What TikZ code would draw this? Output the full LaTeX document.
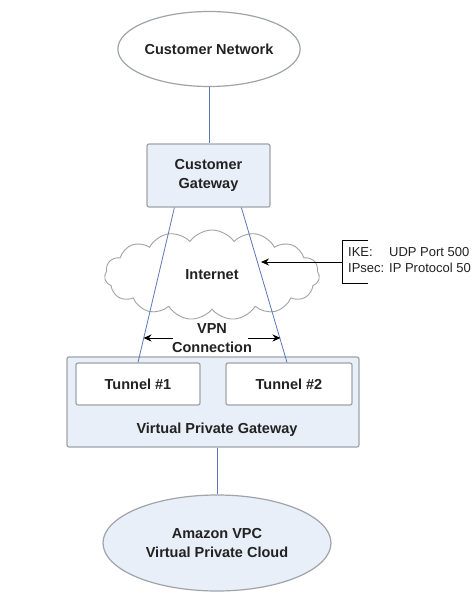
\documentclass[tikz,border=0pt]{standalone}
\usepackage{fontspec}
\setmainfont{Liberation Sans}
\usetikzlibrary{shapes.geometric,shapes.symbols,arrows.meta,calc}
\definecolor{boxfill}{HTML}{E8EFF9}
\definecolor{boxline}{HTML}{A0A4A8}
\definecolor{connline}{HTML}{5A78B8}
\definecolor{txt}{HTML}{222222}
\begin{document}
\begin{tikzpicture}[x=1pt,y=-1pt,
  lbl/.style={font=\fontsize{14.5}{19}\selectfont\bfseries, text=txt, align=center},
  ell/.style={ellipse, draw=boxline, line width=1.2pt, inner sep=0pt},
  bx/.style={rectangle, draw=boxline, line width=1.2pt, rounded corners=2pt, inner sep=0pt},
  conn/.style={draw=connline, line width=0.8pt},
  arr/.style={draw=black, line width=0.9pt, -{Stealth[length=8pt,width=7pt]}},
  brk/.style={draw=black, line width=0.9pt}]
\useasboundingbox (0,0) rectangle (474,611);
\fill[white] (0,0) rectangle (474,611);
% nodes
\node[ell, fill=white, minimum width=182pt, minimum height=75pt, lbl] (cn) at (209,49) {Customer Network};
\node[bx, fill=boxfill, minimum width=123pt, minimum height=63pt, lbl] (cg) at (208.5,175.5) {Customer\\Gateway};
\node[cloud, cloud puffs=15, cloud puff arc=110, aspect=2.4, draw=boxline, line width=0.9pt, fill=white, minimum width=215pt, minimum height=90pt, lbl] (inet) at (212,275) {Internet};
\node[bx, fill=boxfill, minimum width=292pt, minimum height=90pt] (vpg) at (213,402) {};
\node[lbl] (vpgl) at (217,430) {Virtual Private Gateway};
\node[bx, fill=white, minimum width=124pt, minimum height=42pt, lbl] (t1) at (138,384) {Tunnel \#1};
\node[bx, fill=white, minimum width=126pt, minimum height=42pt, lbl] (t2) at (289,384) {Tunnel \#2};
\node[ell, fill=boxfill, minimum width=228pt, minimum height=96pt, lbl] (vpc) at (217,543) {Amazon VPC\\Virtual Private Cloud};
\node[lbl] (vpn) at (212,338) {VPN\\Connection};
\node[anchor=west, inner sep=0pt, font=\fontsize{13}{16}\selectfont, text=txt] (ike) at (348,261.5)
  {\begin{tabular}{@{}l@{ }l@{}}IKE: & UDP Port 500\\IPsec: & IP Protocol 50\end{tabular}};
% connectors
\draw[conn] (cn.south) -- (cn.south |- cg.north);
\draw[conn] (vpc.north |- vpg.south) -- (vpc.north);
\coordinate (a1) at ($(cg.south west)+(28,0)$);
\coordinate (a2) at ($(cg.south west)+(95,0)$);
\coordinate (b2) at ($(t2.north)+(-2,0)$);
\draw[conn] (a1) -- (t1.north);
\draw[conn] (a2) -- (b2);
% VPN arrows
\coordinate (vl0) at (173,338);
\coordinate (vl1) at (143.5,338);
\coordinate (vr0) at (248,338);
\coordinate (vr1) at (280.5,338);
\draw[arr] (vl0) -- (vl1);
\draw[arr] (vr0) -- (vr1);
% IKE bracket and arrow
\coordinate (k1) at (368,240);
\coordinate (k2) at (342,240);
\coordinate (k3) at (342,283);
\coordinate (k4) at (368,283);
\draw[brk] (k1) -- (k2) -- (k3) -- (k4);
\coordinate (km) at (342,262);
\coordinate (kt) at (261,262);
\draw[arr] (km) -- (kt);
\end{tikzpicture}
\end{document}
